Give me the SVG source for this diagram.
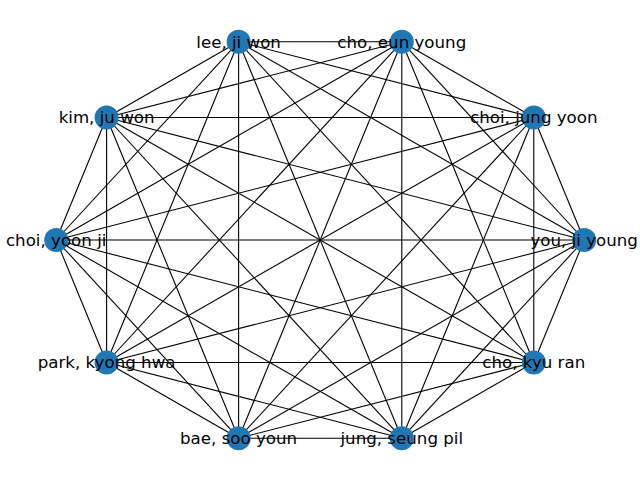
<svg xmlns="http://www.w3.org/2000/svg" width="640" height="480" viewBox="0 0 640 480">
<style>
.e{stroke:#000;stroke-width:1.1;fill:none}
.n circle{fill:#1f77b4}
.n text{font-family:"DejaVu Sans",sans-serif;font-size:16.67px;fill:#000;text-anchor:middle}
</style>
<rect width="640" height="480" fill="#fff"/>
<g id="connectors" class="e">
<line x1="584.2" y1="240" x2="533.8" y2="117.5"/>
<line x1="584.2" y1="240" x2="401.8" y2="41.8"/>
<line x1="584.2" y1="240" x2="238.6" y2="41.8"/>
<line x1="584.2" y1="240" x2="106.6" y2="117.5"/>
<line x1="584.2" y1="240" x2="56.2" y2="240"/>
<line x1="584.2" y1="240" x2="106.6" y2="362.5"/>
<line x1="584.2" y1="240" x2="238.6" y2="438.2"/>
<line x1="584.2" y1="240" x2="401.8" y2="438.2"/>
<line x1="584.2" y1="240" x2="533.8" y2="362.5"/>
<line x1="533.8" y1="117.5" x2="401.8" y2="41.8"/>
<line x1="533.8" y1="117.5" x2="238.6" y2="41.8"/>
<line x1="533.8" y1="117.5" x2="106.6" y2="117.5"/>
<line x1="533.8" y1="117.5" x2="56.2" y2="240"/>
<line x1="533.8" y1="117.5" x2="106.6" y2="362.5"/>
<line x1="533.8" y1="117.5" x2="238.6" y2="438.2"/>
<line x1="533.8" y1="117.5" x2="401.8" y2="438.2"/>
<line x1="533.8" y1="117.5" x2="533.8" y2="362.5"/>
<line x1="401.8" y1="41.8" x2="238.6" y2="41.8"/>
<line x1="401.8" y1="41.8" x2="106.6" y2="117.5"/>
<line x1="401.8" y1="41.8" x2="56.2" y2="240"/>
<line x1="401.8" y1="41.8" x2="106.6" y2="362.5"/>
<line x1="401.8" y1="41.8" x2="238.6" y2="438.2"/>
<line x1="401.8" y1="41.8" x2="401.8" y2="438.2"/>
<line x1="401.8" y1="41.8" x2="533.8" y2="362.5"/>
<line x1="238.6" y1="41.8" x2="106.6" y2="117.5"/>
<line x1="238.6" y1="41.8" x2="56.2" y2="240"/>
<line x1="238.6" y1="41.8" x2="106.6" y2="362.5"/>
<line x1="238.6" y1="41.8" x2="238.6" y2="438.2"/>
<line x1="238.6" y1="41.8" x2="401.8" y2="438.2"/>
<line x1="238.6" y1="41.8" x2="533.8" y2="362.5"/>
<line x1="106.6" y1="117.5" x2="56.2" y2="240"/>
<line x1="106.6" y1="117.5" x2="106.6" y2="362.5"/>
<line x1="106.6" y1="117.5" x2="238.6" y2="438.2"/>
<line x1="106.6" y1="117.5" x2="401.8" y2="438.2"/>
<line x1="106.6" y1="117.5" x2="533.8" y2="362.5"/>
<line x1="56.2" y1="240" x2="106.6" y2="362.5"/>
<line x1="56.2" y1="240" x2="238.6" y2="438.2"/>
<line x1="56.2" y1="240" x2="401.8" y2="438.2"/>
<line x1="56.2" y1="240" x2="533.8" y2="362.5"/>
<line x1="106.6" y1="362.5" x2="238.6" y2="438.2"/>
<line x1="106.6" y1="362.5" x2="401.8" y2="438.2"/>
<line x1="106.6" y1="362.5" x2="533.8" y2="362.5"/>
<line x1="238.6" y1="438.2" x2="401.8" y2="438.2"/>
<line x1="238.6" y1="438.2" x2="533.8" y2="362.5"/>
<line x1="401.8" y1="438.2" x2="533.8" y2="362.5"/>
</g>
<g id="node-you-ji-young" class="n"><circle cx="584.2" cy="240" r="12"/></g>
<g id="node-choi-jung-yoon" class="n"><circle cx="533.8" cy="117.5" r="12"/></g>
<g id="node-cho-eun-young" class="n"><circle cx="401.8" cy="41.8" r="12"/></g>
<g id="node-lee-ji-won" class="n"><circle cx="238.6" cy="41.8" r="12"/></g>
<g id="node-kim-ju-won" class="n"><circle cx="106.6" cy="117.5" r="12"/></g>
<g id="node-choi-yoon-ji" class="n"><circle cx="56.2" cy="240" r="12"/></g>
<g id="node-park-kyong-hwa" class="n"><circle cx="106.6" cy="362.5" r="12"/></g>
<g id="node-bae-soo-youn" class="n"><circle cx="238.6" cy="438.2" r="12"/></g>
<g id="node-jung-seung-pil" class="n"><circle cx="401.8" cy="438.2" r="12"/></g>
<g id="node-cho-kyu-ran" class="n"><circle cx="533.8" cy="362.5" r="12"/></g>
<g id="labels" class="n">
<text x="584.2" y="245.8">you, ji young</text>
<text x="533.8" y="123.3">choi, jung yoon</text>
<text x="401.8" y="47.6">cho, eun young</text>
<text x="238.6" y="47.6">lee, ji won</text>
<text x="106.6" y="123.3">kim, ju won</text>
<text x="56.2" y="245.8">choi, yoon ji</text>
<text x="106.6" y="368.3">park, kyong hwa</text>
<text x="238.6" y="444">bae, soo youn</text>
<text x="401.8" y="444">jung, seung pil</text>
<text x="533.8" y="368.3">cho, kyu ran</text>
</g>
</svg>
